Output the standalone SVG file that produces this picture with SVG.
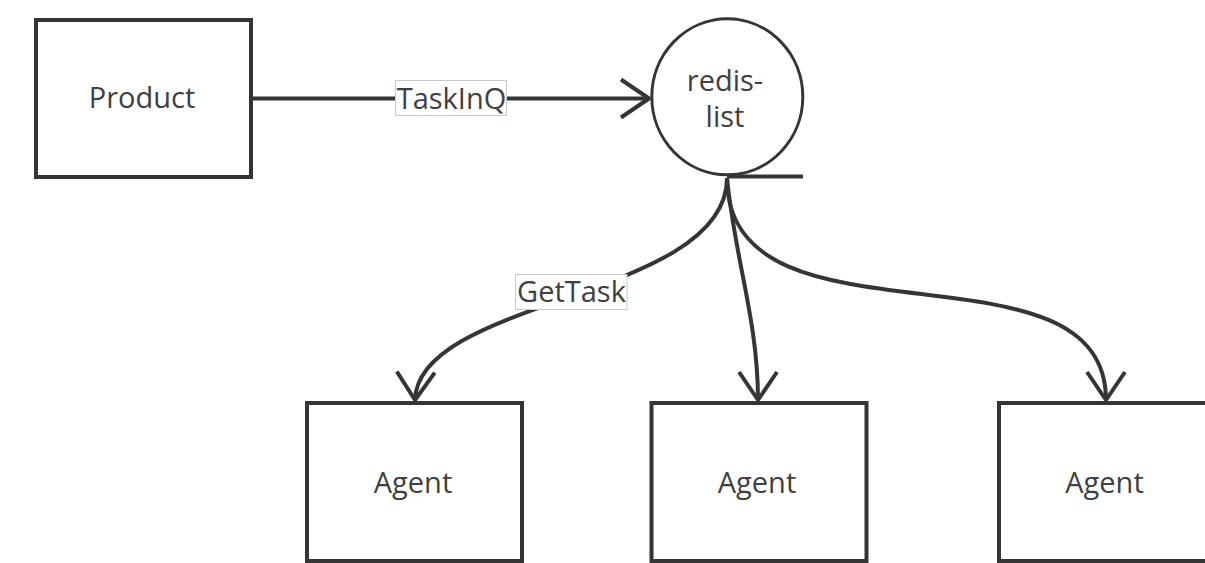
<svg xmlns="http://www.w3.org/2000/svg" width="1205" height="563" viewBox="0 0 1205 563">
  <style>
    .box { fill: #ffffff; stroke: #353535; stroke-width: 4; }
    .circ { fill: #ffffff; stroke: #353535; stroke-width: 3; }
    .txt { font-family: "Open Sans", "Noto Sans", sans-serif; font-size: 29px; fill: #404040; text-anchor: middle; }
    .edge { fill: none; stroke: #353535; stroke-width: 4; }
    .lbl { fill: #ffffff; stroke: #c8c8c8; stroke-width: 1; }
  </style>
  <defs>
    <marker id="arrow" markerUnits="userSpaceOnUse" markerWidth="40" markerHeight="44" refX="32" refY="21" orient="auto" overflow="visible">
      <path d="M4 2 L32 21 L4 40" fill="none" stroke="#353535" stroke-width="4" stroke-linejoin="round"/>
    </marker>
  </defs>
  <rect width="1205" height="563" fill="#ffffff"/>

  <g id="connectors">
    <path class="edge" d="M252 98.5 L649 98.5" marker-end="url(#arrow)"/>
    <path class="edge" d="M727 178 C727 298 418 298 415 400" marker-end="url(#arrow)"/>
    <path class="edge" d="M727 178 C735 260 758 320 758 400" marker-end="url(#arrow)"/>
    <path class="edge" d="M727 178 C727 360 1106 230 1106 400" marker-end="url(#arrow)"/>
    <g id="label-taskinq">
      <rect class="lbl" x="395.5" y="80.5" width="111" height="35"/>
      <text class="txt" x="451.5" y="108.5">TaskInQ</text>
    </g>
    <g id="label-gettask">
      <rect class="lbl" x="515.5" y="274.5" width="111.5" height="35"/>
      <text class="txt" x="571.5" y="302">GetTask</text>
    </g>
  </g>

  <g id="product">
    <rect class="box" x="36" y="20" width="215" height="157"/>
    <text class="txt" x="142" y="108">Product</text>
  </g>

  <g id="redis-list">
    <ellipse class="circ" cx="727.3" cy="96.8" rx="75.5" ry="78"/>
    <path d="M727 176.5 L803 176.5" fill="none" stroke="#353535" stroke-width="4"/>
    <text class="txt" x="725" y="90.7">redis-</text>
    <text class="txt" x="725" y="126.7">list</text>
  </g>

  <g id="agent1">
    <rect class="box" x="307" y="403" width="215" height="158"/>
    <text class="txt" x="413" y="493">Agent</text>
  </g>
  <g id="agent2">
    <rect class="box" x="651.5" y="403" width="215" height="158"/>
    <text class="txt" x="757" y="493">Agent</text>
  </g>
  <g id="agent3">
    <rect class="box" x="999" y="403" width="215" height="158"/>
    <text class="txt" x="1104.5" y="493">Agent</text>
  </g>
</svg>
